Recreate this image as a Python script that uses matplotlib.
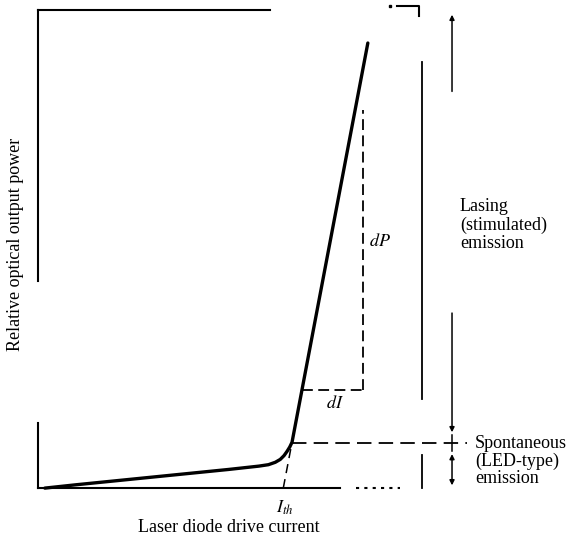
import numpy as np
import matplotlib.pyplot as plt

plt.rcParams['font.family'] = ['Liberation Serif', 'DejaVu Serif']
plt.rcParams['mathtext.fontset'] = 'stix'

# laser diode P-I characteristic (arbitrary units, 0-100 on both axes)
current = [1.8, 10, 20, 30, 40, 50, 58.0, 60.5, 62.3, 63.6, 64.6, 65.4, 66.1, 66.7, 86.6]
power = [0.0, 0.7, 1.5, 2.3, 3.1, 3.9, 4.6, 4.9, 5.4, 6.0, 6.8, 7.7, 8.6, 9.6, 93.1]
i_th = 64.4          # threshold current
p_knee = 9.4         # power level at the knee
di_level = 20.5      # where the dI step is drawn
di_x = 85.3          # right end of dI / position of dP
dp_top = 79.1

fig = plt.figure(figsize=(5.72, 5.45), dpi=100)
ax = fig.add_axes([0, 0, 1, 1])
ax.set_xlim(-9.97, 140.2)
ax.set_ylim(-11.9, 102.1)
ax.axis('off')

k = 'black'
# frame (broken like in the scan)
ax.plot([0, 0], [0, 13.6], color=k, lw=1.5)
ax.plot([0, 0], [43.3, 100], color=k, lw=1.5)
ax.plot([0, 60.9], [100, 100], color=k, lw=1.5)
ax.plot([94.2, 100, 100], [100.8, 100.8, 98.7], color=k, lw=1.5)
ax.plot([92.4], [100.8], marker='s', ms=1.5, color=k)
ax.plot([0, 79.3], [0, 0], color=k, lw=1.5)
ax.plot([83.5, 95], [0, 0], color=k, lw=1.5, ls=(0, (1.5, 2.5)))

# the curve
ax.plot(current, power, color=k, lw=2.4, solid_capstyle='round', solid_joinstyle='round')

# threshold extension and knee line
slope = (current[-1] - current[-2]) / (power[-1] - power[-2])
ax.plot([i_th, current[-2]], [0, power[-2]], color=k, lw=1.1, ls=(0, (6, 4)))
ax.plot([current[-2], 112.6], [p_knee, p_knee], color=k, lw=1.3, ls=(0, (8, 4)))

# dI / dP construction
x_step = current[-2] + slope * (di_level - power[-2])
ax.plot([x_step, di_x], [di_level, di_level], color=k, lw=1.3, ls=(0, (6, 3)))
ax.plot([di_x, di_x], [di_level, dp_top], color=k, lw=1.3, ls=(0, (6, 3)))

# extension lines on the right
ax.plot([100.8, 100.8], [18.6, 89.1], color=k, lw=1.3)
ax.plot([100.8, 100.8], [0, 6.9], color=k, lw=1.3)

# lasing region arrow (broken)
ax.annotate('', xy=(108.7, 99.6), xytext=(108.7, 82.4),
            arrowprops=dict(arrowstyle='-|>', color=k, lw=1.1, mutation_scale=7))
ax.annotate('', xy=(108.7, 11.1), xytext=(108.7, 37.2),
            arrowprops=dict(arrowstyle='-|>', color=k, lw=1.1, mutation_scale=7))
# spontaneous region arrow
ax.annotate('', xy=(108.7, 0), xytext=(108.7, 7.7),
            arrowprops=dict(arrowstyle='<|-|>', color=k, lw=1.1, mutation_scale=7))
ax.plot([108.7, 108.7], [7.7, 11.1], color=k, lw=1.1)

fs = 13
ax.text(-6.0, 51.0, 'Relative optical output power', rotation=90,
        ha='center', va='center', fontsize=fs)
ax.text(50.0, -8.2, 'Laser diode drive current', ha='center', va='center', fontsize=fs)
ax.text(i_th + 0.3, -4.2, r'$I_{th}$', ha='center', va='center', fontsize=fs)
ax.text(89.8, 51.5, r'$dP$', ha='center', va='center', fontsize=fs)
ax.text(77.9, 17.6, r'$dI$', ha='center', va='center', fontsize=fs)
ax.text(110.8, 60.6, 'Lasing\n(stimulated)\nemission', ha='left', va='top',
        fontsize=fs, linespacing=1.1)
ax.text(114.7, 11.2, 'Spontaneous\n(LED-type)\nemission', ha='left', va='top',
        fontsize=fs, linespacing=1.05)

fig.savefig('out.png', dpi=100)
